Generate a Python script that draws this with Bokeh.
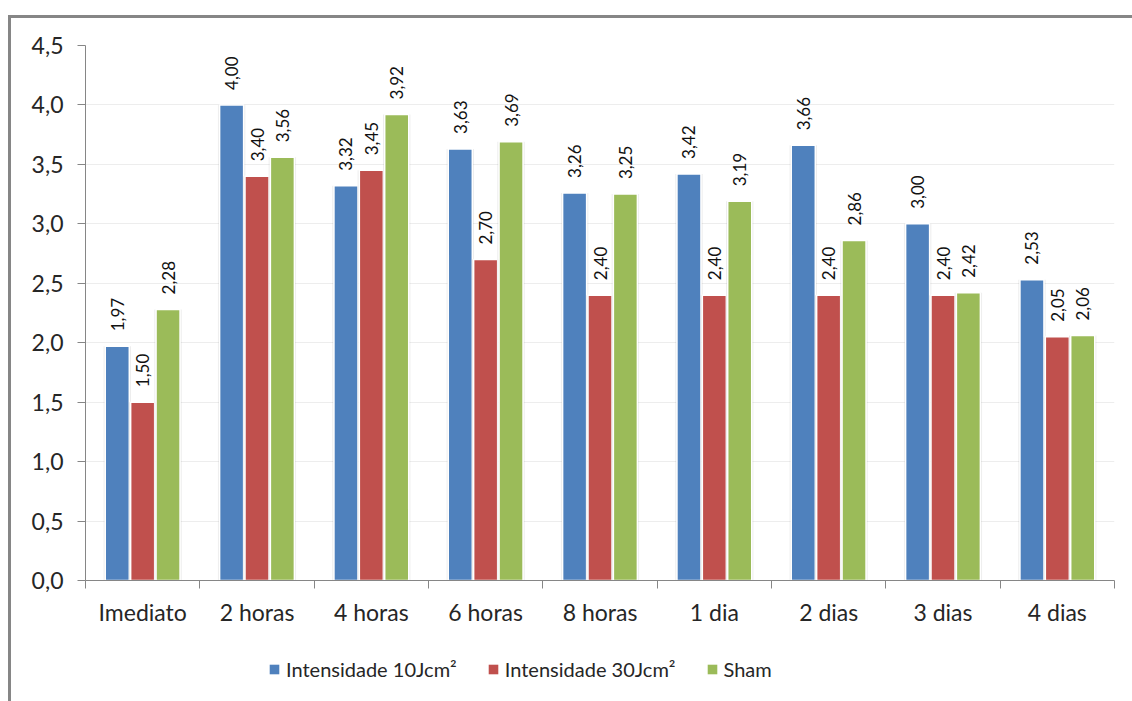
from bokeh.plotting import figure
from bokeh.layouts import column
from bokeh.models import (Range1d, FixedTicker, Legend, LegendItem, ColumnDataSource)
from bokeh.core.properties import value
from bokeh.embed import file_html
from bokeh.resources import INLINE
import math

# Data
categories = ["Imediato", "2 horas", "4 horas", "6 horas", "8 horas",
              "1 dia", "2 dias", "3 dias", "4 dias"]
series_names = ["Intensidade 10Jcm²", "Intensidade 30Jcm²", "Sham"]
int10 = [1.97, 4.00, 3.32, 3.63, 3.26, 3.42, 3.66, 3.00, 2.53]
int30 = [1.50, 3.40, 3.45, 2.70, 2.40, 2.40, 2.40, 2.40, 2.05]
sham = [2.28, 3.56, 3.92, 3.69, 3.25, 3.19, 2.86, 2.42, 2.06]
colors = ["#4F81BD", "#C0504D", "#9BBB59"]
y_ticks = [0.0, 0.5, 1.0, 1.5, 2.0, 2.5, 3.0, 3.5, 4.0, 4.5]

FONT = "Lato"
AXIS_GREY = "#868686"

p = figure(width=1121, height=622, output_backend="svg", toolbar_location=None,
           x_range=Range1d(0.5, 9.5), y_range=Range1d(0, 4.5),
           min_border_left=74, min_border_right=18, min_border_top=27,
           min_border_bottom=60)
p.outline_line_color = None
p.background_fill_color = "white"
p.border_fill_color = "white"

# grid
p.xgrid.grid_line_color = None
p.ygrid.grid_line_color = "#EDEDED"
p.ygrid.grid_line_width = 1

# y axis
p.yaxis.ticker = FixedTicker(ticks=y_ticks)
p.yaxis.major_label_overrides = {t: f"{t:.1f}".replace(".", ",") for t in y_ticks}
p.yaxis.axis_line_color = AXIS_GREY
p.yaxis.major_tick_line_color = AXIS_GREY
p.yaxis.major_tick_out = 8
p.yaxis.major_tick_in = 0
p.yaxis.minor_tick_line_color = None
p.yaxis.major_label_text_font = FONT
p.yaxis.major_label_text_font_size = "23px"
p.yaxis.major_label_text_color = "#262626"
p.yaxis.major_label_standoff = 14

# x axis: labels at category centres, tick marks at category boundaries
xpos = list(range(1, len(categories) + 1))
p.xaxis.ticker = FixedTicker(ticks=xpos,
                             minor_ticks=[i + 0.5 for i in range(0, len(categories) + 1)])
p.xaxis.major_label_overrides = {i: c for i, c in zip(xpos, categories)}
p.xaxis.axis_line_color = AXIS_GREY
p.xaxis.major_tick_line_color = None
p.xaxis.minor_tick_line_color = AXIS_GREY
p.xaxis.minor_tick_out = 8
p.xaxis.minor_tick_in = 0
p.xaxis.major_label_text_font = FONT
p.xaxis.major_label_text_font_size = "23px"
p.xaxis.major_label_text_color = "#262626"
p.xaxis.major_label_standoff = 9

offsets = [-0.222, 0.0, 0.222]
bar_w = 0.21
for vals, col, off in zip([int10, int30, sham], colors, offsets):
    xs = [x + off for x in xpos]
    src = ColumnDataSource(dict(x=xs, top=vals,
                                lbl=[f"{v:.2f}".replace(".", ",") for v in vals]))
    # soft shadow
    p.vbar(x="x", top="top", width=bar_w + 0.03, bottom=0, source=src,
           fill_color="black", fill_alpha=0.07, line_color=None)
    p.vbar(x="x", top="top", width=bar_w, bottom=0, source=src,
           fill_color=col, line_color="white", line_width=1.5)
    p.text(x="x", y="top", text="lbl", source=src, angle=math.pi / 2,
           text_align="left", text_baseline="middle", y_offset=-15,
           text_font=value(FONT), text_font_size="17px",
           text_color="#111111")

# legend strip underneath the chart
leg = figure(width=1121, height=61, output_backend="svg", toolbar_location=None,
             x_range=Range1d(0, 1), y_range=Range1d(0, 1),
             min_border=0, min_border_left=0, min_border_right=0,
             min_border_top=0, min_border_bottom=0)
leg.axis.visible = False
leg.grid.visible = False
leg.outline_line_color = None
leg.border_fill_color = "white"
# off-range swatches, only used for the legend glyphs
swatches = [leg.vbar(x=[-5], top=[-5], width=1, fill_color=c, line_color=None)
            for c in colors]
legend = Legend(items=[LegendItem(label=n, renderers=[r])
                       for n, r in zip(series_names, swatches)],
                orientation="horizontal", location=(183, 20))
legend.label_text_font = FONT
legend.label_text_font_size = "20px"
legend.label_text_color = "#262626"
legend.glyph_width = 12
legend.glyph_height = 12
legend.spacing = 30
legend.label_standoff = 6
legend.padding = 5
legend.margin = 0
legend.border_line_color = None
legend.background_fill_alpha = 0
leg.add_layout(legend, "center")

layout = column(p, leg, spacing=0)
layout.margin = (15, 0, 0, 8)
layout.styles = {"border-top": "3px solid #868686", "border-left": "3px solid #868686",
                 "background-color": "white"}

open("out.html", "w").write(file_html(layout, INLINE))
